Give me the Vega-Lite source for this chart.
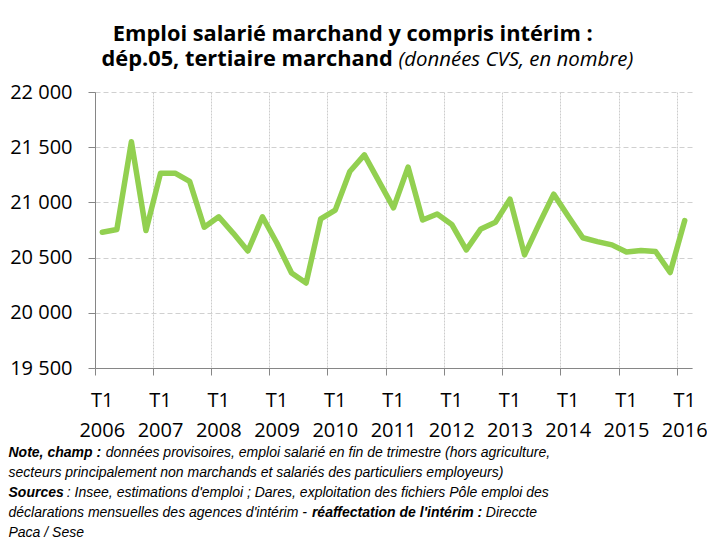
{
  "$schema": "https://vega.github.io/schema/vega-lite/v6.json",
  "width": 597,
  "height": 276,
  "autosize": {"type": "none"},
  "padding": {"left": 95, "top": 92, "right": 15, "bottom": 179},
  "background": "white",
  "config": {"view": {"stroke": null}, "font": "Open Sans"},
  "data": {
    "values": [
      {"q": "T1 2006", "v": 20730}, {"q": "T2 2006", "v": 20755}, {"q": "T3 2006", "v": 21550}, {"q": "T4 2006", "v": 20745},
      {"q": "T1 2007", "v": 21265}, {"q": "T2 2007", "v": 21265}, {"q": "T3 2007", "v": 21190}, {"q": "T4 2007", "v": 20775},
      {"q": "T1 2008", "v": 20870}, {"q": "T2 2008", "v": 20720}, {"q": "T3 2008", "v": 20560}, {"q": "T4 2008", "v": 20870},
      {"q": "T1 2009", "v": 20630}, {"q": "T2 2009", "v": 20360}, {"q": "T3 2009", "v": 20270}, {"q": "T4 2009", "v": 20850},
      {"q": "T1 2010", "v": 20930}, {"q": "T2 2010", "v": 21280}, {"q": "T3 2010", "v": 21430}, {"q": "T4 2010", "v": 21190},
      {"q": "T1 2011", "v": 20950}, {"q": "T2 2011", "v": 21320}, {"q": "T3 2011", "v": 20840}, {"q": "T4 2011", "v": 20895},
      {"q": "T1 2012", "v": 20800}, {"q": "T2 2012", "v": 20570}, {"q": "T3 2012", "v": 20760}, {"q": "T4 2012", "v": 20820},
      {"q": "T1 2013", "v": 21030}, {"q": "T2 2013", "v": 20525}, {"q": "T3 2013", "v": 20805}, {"q": "T4 2013", "v": 21075},
      {"q": "T1 2014", "v": 20875}, {"q": "T2 2014", "v": 20680}, {"q": "T3 2014", "v": 20645}, {"q": "T4 2014", "v": 20615},
      {"q": "T1 2015", "v": 20550}, {"q": "T2 2015", "v": 20565}, {"q": "T3 2015", "v": 20555}, {"q": "T4 2015", "v": 20365},
      {"q": "T1 2016", "v": 20835}
    ]
  },
  "layer": [
    {
      "mark": {"type": "line", "color": "#92D050", "strokeWidth": 5.5, "strokeJoin": "round", "strokeCap": "round"},
      "encoding": {
        "x": {
          "field": "q", "type": "ordinal", "sort": null,
          "scale": {"type": "band", "paddingInner": 0, "paddingOuter": 0},
          "axis": {
            "orient": "bottom",
            "values": ["T1 2006", "T1 2007", "T1 2008", "T1 2009", "T1 2010", "T1 2011", "T1 2012", "T1 2013", "T1 2014", "T1 2015", "T1 2016"],
            "bandPosition": 0,
            "labelExpr": "split(datum.value, ' ')",
            "labelAngle": 0, "labelAlign": "center", "labelBaseline": "top",
            "labelFont": "Open Sans", "labelFontSize": 20, "labelColor": "#000000",
            "labelLineHeight": 30, "labelPadding": 15, "labelOverlap": false, "labelFlush": false,
            "tickSize": 7, "tickColor": "#868686", "domainColor": "#868686",
            "grid": true, "gridColor": "#cccccc", "gridDash": [2, 1], "gridWidth": 1,
            "title": [
              "\u200b\u00a0\u00a0\u00a0\u00a0\u00a0\u00a0\u00a0\u00a0\u00a0\u00a0\u00a0\u00a0\u00a0\u00a0\u00a0\u00a0\u00a0\u00a0\u00a0\u00a0\u00a0\u00a0\u00a0\u00a0 données provisoires, emploi salarié en fin de trimestre (hors agriculture,",
              "secteurs principalement non marchands et salariés des particuliers employeurs)",
              "\u200b\u00a0\u00a0\u00a0\u00a0\u00a0\u00a0\u00a0\u00a0\u00a0\u00a0\u00a0\u00a0\u00a0\u00a0 : Insee, estimations d'emploi ; Dares, exploitation des fichiers Pôle emploi des",
              "déclarations mensuelles des agences d'intérim - \u00a0\u00a0\u00a0\u00a0\u00a0\u00a0\u00a0\u00a0\u00a0\u00a0\u00a0\u00a0\u00a0\u00a0\u00a0\u00a0\u00a0\u00a0\u00a0\u00a0\u00a0\u00a0\u00a0\u00a0\u00a0\u00a0\u00a0\u00a0\u00a0\u00a0\u00a0\u00a0\u00a0\u00a0\u00a0\u00a0\u00a0\u00a0\u00a0\u00a0\u00a0\u00a0\u00a0\u00a0 Direccte",
              "Paca / Sese"
            ],
            "titleX": -87, "titleY": 88.7, "titleAngle": 0,
            "titleAlign": "left", "titleBaseline": "alphabetic",
            "titleFont": "Liberation Sans", "titleFontSize": 14, "titleFontStyle": "italic", "titleFontWeight": "normal",
            "titleLineHeight": 20, "titleColor": "#000000", "titleLimit": 2000
          }
        },
        "y": {
          "field": "v", "type": "quantitative",
          "scale": {"domain": [19500, 22000], "nice": false, "zero": false},
          "axis": {
            "orient": "left",
            "values": [19500, 20000, 20500, 21000, 21500, 22000],
            "labelExpr": "replace(format(datum.value, ','), ',', ' ')",
            "labelFont": "Open Sans", "labelFontSize": 20, "labelColor": "#000000", "labelPadding": 16,
            "tickSize": 7, "tickColor": "#868686", "domainColor": "#868686",
            "grid": true, "gridColor": "#d0d0d0", "gridDash": [5, 3], "gridWidth": 1,
            "title": "(données CVS, en nombre)",
            "titleAngle": 0, "titleX": 303, "titleY": -27,
            "titleAlign": "left", "titleBaseline": "alphabetic",
            "titleFont": "Open Sans", "titleFontSize": 20.4, "titleFontStyle": "italic", "titleFontWeight": "normal",
            "titleColor": "#000000", "titleLimit": 2000
          }
        }
      }
    },
    {
      "mark": {"type": "line", "opacity": 0},
      "encoding": {
        "x": {
          "field": "q", "type": "ordinal", "sort": null,
          "axis": {
            "orient": "top", "labels": false, "ticks": false, "domain": false, "grid": false,
            "title": ["\u200b\u00a0\u00a0Emploi salarié marchand y compris intérim :", "dép.05, tertiaire marchand"],
            "titleX": 6, "titleY": -52, "titleAngle": 0,
            "titleAlign": "left", "titleBaseline": "alphabetic",
            "titleFont": "Open Sans", "titleFontSize": 21.8, "titleFontWeight": "bold",
            "titleLineHeight": 25, "titleColor": "#000000", "titleLimit": 2000
          }
        },
        "y": {
          "field": "v", "type": "quantitative",
          "axis": {
            "orient": "right", "labels": false, "ticks": false, "domain": false, "grid": false,
            "title": [
              "Note, champ :",
              "\u200b",
              "Sources",
              "\u200b\u00a0\u00a0\u00a0\u00a0\u00a0\u00a0\u00a0\u00a0\u00a0\u00a0\u00a0\u00a0\u00a0\u00a0\u00a0\u00a0\u00a0\u00a0\u00a0\u00a0\u00a0\u00a0\u00a0\u00a0\u00a0\u00a0\u00a0\u00a0\u00a0\u00a0\u00a0\u00a0\u00a0\u00a0\u00a0\u00a0\u00a0\u00a0\u00a0\u00a0\u00a0\u00a0\u00a0\u00a0\u00a0\u00a0\u00a0\u00a0\u00a0\u00a0\u00a0\u00a0\u00a0\u00a0\u00a0\u00a0\u00a0\u00a0\u00a0\u00a0\u00a0\u00a0\u00a0\u00a0\u00a0\u00a0\u00a0\u00a0\u00a0\u00a0\u00a0\u00a0\u00a0\u00a0\u00a0\u00a0\u00a0\u00a0réaffectation de l'intérim :",
              "\u200b"
            ],
            "titleX": -684, "titleY": 364.7, "titleAngle": 0,
            "titleAlign": "left", "titleBaseline": "alphabetic",
            "titleFont": "Liberation Sans", "titleFontSize": 14, "titleFontStyle": "italic", "titleFontWeight": "bold",
            "titleLineHeight": 20, "titleColor": "#000000", "titleLimit": 2000
          }
        }
      }
    }
  ],
  "resolve": {"axis": {"x": "independent", "y": "independent"}}
}
